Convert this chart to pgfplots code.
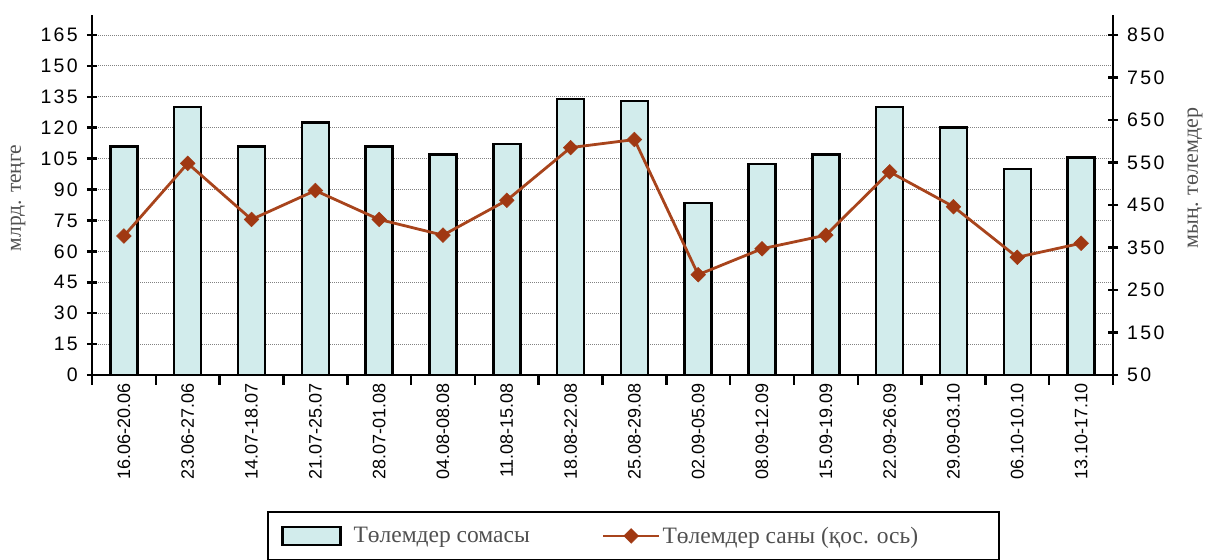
\documentclass[border=0pt]{standalone}
\usepackage{pgfplots}
\pgfplotsset{compat=1.18}
\usepackage{fontspec}
\setmainfont{Liberation Sans}
\newfontfamily\serif{Liberation Serif}
\newfontfamily\spaced[LetterSpace=12]{Liberation Sans}
\newcommand{\tlf}{\fontsize{18}{18}\selectfont}
\newcommand{\tly}{\spaced\fontsize{19.5}{19.5}\selectfont}
\definecolor{barfill}{RGB}{210,236,236}
\definecolor{linec}{RGB}{168,68,28}
\definecolor{markc}{RGB}{160,56,18}
\definecolor{gridc}{RGB}{130,130,130}
\definecolor{labc}{RGB}{80,80,80}
\pgfplotsset{
  barlegend/.style={legend image code/.code={\draw[##1] (0pt,-9pt) rectangle (58pt,9pt);}},
  linelegend/.style={legend image code/.code={\draw[##1, mark repeat=2, mark phase=2] plot coordinates {(0pt,0pt)(28pt,0pt)(56pt,0pt)};}},
}
\begin{document}
\begin{tikzpicture}
\useasboundingbox (0,0) rectangle (1206pt,559pt);
\begin{axis}[
  at={(92pt,184pt)}, anchor=south west,
  scale only axis, width=1021pt, height=360pt,
  xmin=-0.5, xmax=15.5, ymin=0, ymax=174.7,
  axis x line*=bottom, axis y line*=left,
  axis line style={line width=2.5pt, black},
  tick style={line width=2.5pt, black},
  major tick length=10pt, tick align=center,
  x tick style={yshift=-5pt},
  xtick={-0.5,0.5,...,15.5}, x tick label as interval,
  xticklabels={16.06-20.06,23.06-27.06,14.07-18.07,21.07-25.07,28.07-01.08,04.08-08.08,11.08-15.08,18.08-22.08,25.08-29.08,02.09-05.09,08.09-12.09,15.09-19.09,22.09-26.09,29.09-03.10,06.10-10.10,13.10-17.10},
  x tick label style={yshift=-3pt, rotate=90, anchor=east, inner sep=0pt, font=\tlf},
  ytick={0,15,...,165},
  y tick label style={anchor=east, inner sep=0pt, xshift=-9pt, font=\tly},
  /pgf/number format/assume math mode=true,
  ymajorgrids, grid style={gridc, line width=0.9pt, dash pattern=on 1pt off 1pt},
  ylabel={млрд. теңге},
  ylabel style={at={(axis description cs:-0.0725,0.492)}, anchor=center, rotate=0, font=\serif\fontsize{21.5}{21.5}\selectfont, text=labc},
  legend columns=2,
  legend style={at={(axis description cs:0.1714,-0.3778)}, anchor=north west, draw=black, line width=2pt,
    font=\serif\fontsize{23.5}{23.5}\selectfont, text=labc, inner xsep=13pt, inner ysep=13pt,
    /tikz/every even column/.append style={column sep=70pt},
    /tikz/column 1/.append style={column sep=10pt}},
]
\addplot[ybar, bar width=27pt, fill=barfill, draw=black, line width=2.5pt, barlegend]
  coordinates {(0,111)(1,130)(2,111)(3,122.5)(4,111)(5,107)(6,112)(7,134)(8,133)(9,83.5)(10,102.5)(11,107)(12,130)(13,120)(14,100)(15,105.5)};
\addlegendentry{Төлемдер сомасы}
\addlegendimage{linec, line width=2.8pt, mark=square*, mark size=5.2pt, mark options={rotate=45, fill=markc, draw=markc, line width=0.5pt}, linelegend}
\addlegendentry{Төлемдер саны (қос. ось)\hspace*{66pt}}
\end{axis}
\begin{axis}[
  at={(92pt,184pt)}, anchor=south west,
  scale only axis, width=1021pt, height=360pt,
  xmin=-0.5, xmax=15.5, ymin=50, ymax=897.06,
  axis x line=none, axis y line*=right,
  axis line style={line width=2.5pt, black},
  tick style={line width=2.5pt, black},
  major tick length=10pt, tick align=center,
  ytick={50,150,...,850},
  y tick label style={anchor=west, inner sep=0pt, xshift=9pt, font=\tly},
  /pgf/number format/assume math mode=true,
  ylabel={мың. төлемдер},
  ylabel style={at={(axis description cs:1.0803,0.547)}, anchor=center, rotate=0, font=\serif\fontsize{22}{22}\selectfont, text=labc},
]
\addplot[linec, line width=2.8pt, mark=square*, mark size=5.2pt, mark options={rotate=45, fill=markc, draw=markc, line width=0.5pt}]
  coordinates {(0,377)(1,548)(2,416)(3,484)(4,416)(5,379)(6,461)(7,585)(8,604)(9,286)(10,347)(11,379)(12,528)(13,446)(14,327)(15,360)};
\end{axis}
\end{tikzpicture}
\end{document}
